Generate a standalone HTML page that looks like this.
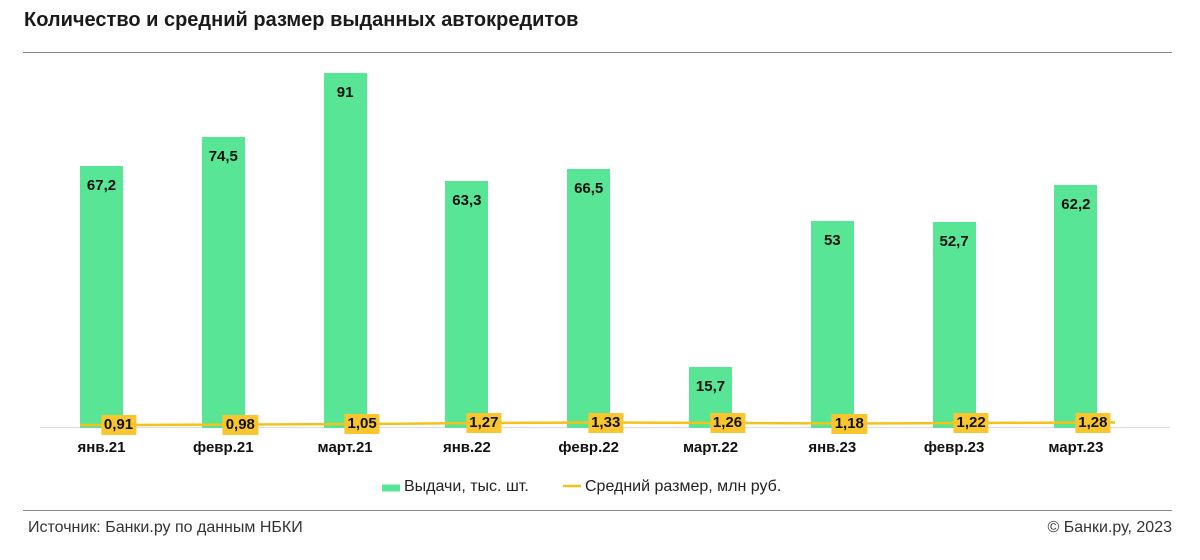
<!DOCTYPE html>
<html><head><meta charset="utf-8"><style>
body{margin:0;width:1200px;height:560px;background:#fff;font-family:"Liberation Sans",sans-serif;position:relative;overflow:hidden}
.t{position:absolute;left:24px;top:9px;font-size:20px;font-weight:bold;color:#1a1a1a}
.r{position:absolute;left:23px;width:1149px;height:1px;background:#888}
.bar{position:absolute;width:43px;background:#58e595}
.bl{position:absolute;width:43px;text-align:center;font-size:15px;font-weight:bold;color:#111}
.yl{position:absolute;height:20px;line-height:20px;padding:0 3px;background:#f9c630;font-size:15px;font-weight:bold;color:#111;transform:translateX(-50%);z-index:3}
.xl{position:absolute;top:439px;font-size:15px;font-weight:bold;color:#111;transform:translateX(-50%)}
.ft{position:absolute;top:519px;font-size:16px;color:#333}
svg{position:absolute;left:0;top:0;z-index:2}
</style></head><body>
<div class="t">Количество и средний размер выданных автокредитов</div>
<div class="r" style="top:52px"></div>
<div class="r" style="top:510px"></div>
<div style="position:absolute;left:40px;top:427px;width:1130px;height:1px;background:#ddd"></div>
<div id="c"></div>
<svg width="1200" height="560"><polyline fill="none" stroke="#f5c21b" stroke-width="2.5" points="80,425 118,425 240,424.5 362,424 484,423 605,422.5 727,423 849,423.5 971,423 1093,422.5 1115,422.5"/>
<line x1="382" y1="488" x2="400" y2="488" stroke="#58e595" stroke-width="7"/>
<line x1="563" y1="486" x2="581" y2="486" stroke="#f5c21b" stroke-width="2.5"/>
</svg>
<div style="position:absolute;left:404px;top:478px;font-size:16px;color:#222">Выдачи, тыс. шт.</div>
<div style="position:absolute;left:585px;top:478px;font-size:16px;color:#222">Средний размер, млн руб.</div>
<div class="ft" style="left:28px">Источник: Банки.ру по данным НБКИ</div>
<div class="ft" style="right:28px">© Банки.ру, 2023</div>
<script>
var v=[67.2,74.5,91,63.3,66.5,15.7,53,52.7,62.2],a=["0,91","0,98","1,05","1,27","1,33","1,26","1,18","1,22","1,28"],
x=["янв.21","февр.21","март.21","янв.22","февр.22","март.22","янв.23","февр.23","март.23"],ly=[425,424.5,424,423,422.5,423,423.5,423,422.5],h="";
for(var i=0;i<9;i++){var l=80+i*121.8,t=428-v[i]*3.9,c=l+21.5;
h+='<div class="bar" style="left:'+l+'px;top:'+t+'px;height:'+(428-t)+'px"></div>';
h+='<div class="bl" style="left:'+l+'px;top:'+(t+11)+'px">'+String(v[i]).replace(".",",")+'</div>';
h+='<div class="yl" style="left:'+(c+17)+'px;top:'+(ly[i]-10)+'px">'+a[i]+'</div>';
h+='<div class="xl" style="left:'+c+'px">'+x[i]+'</div>';}
document.getElementById("c").innerHTML=h;
</script>
</body></html>
